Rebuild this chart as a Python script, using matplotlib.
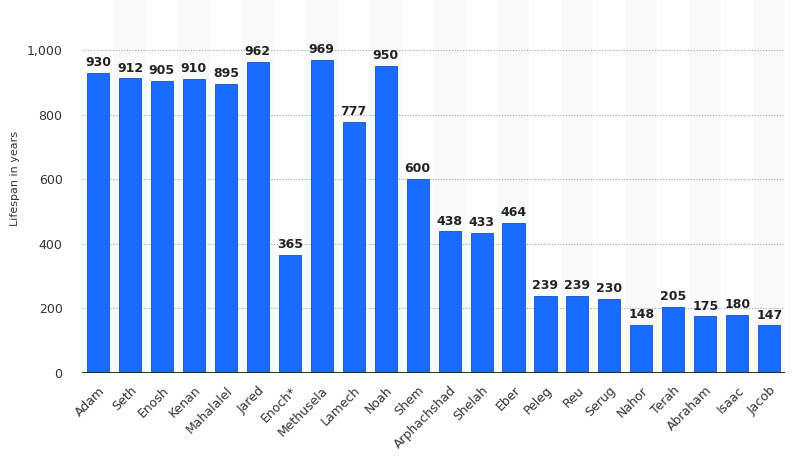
import matplotlib.pyplot as plt
from matplotlib.ticker import FuncFormatter

names = ['Adam', 'Seth', 'Enosh', 'Kenan', 'Mahalalel', 'Jared', 'Enoch*',
         'Methusela', 'Lamech', 'Noah', 'Shem', 'Arphachshad', 'Shelah', 'Eber',
         'Peleg', 'Reu', 'Serug', 'Nahor', 'Terah', 'Abraham', 'Isaac', 'Jacob']
years = [930, 912, 905, 910, 895, 962, 365, 969, 777, 950, 600, 438, 433, 464,
         239, 239, 230, 148, 205, 175, 180, 147]
yticks = [0, 200, 400, 600, 800, 1000]

fig = plt.figure(figsize=(8, 4.57), dpi=100)
ax = fig.add_axes([0.1025, 0.184, 0.879, 0.816])

x = list(range(len(names)))

# light stripes behind every other category
for i in x:
    if i % 2 == 1:
        ax.axvspan(i - 0.5, i + 0.5, color='#f9f9f9', zorder=0, lw=0)

for y in yticks[1:]:
    ax.axhline(y, color='#a8a8a8', lw=0.8, ls=(0, (1, 1.5)), zorder=1)

bars = ax.bar(x, years, width=0.69, color='#1a6bff', edgecolor='#1450c8',
              linewidth=0.6, zorder=2)
ax.axhline(0, color='#222222', lw=1.3, zorder=3)

for i, v in enumerate(years):
    ax.text(i, v + 12, str(v), ha='center', va='bottom', fontsize=9,
            fontweight='bold', color='#222222', zorder=4)

ax.set_xlim(-0.5, len(names) - 0.5)
ax.set_ylim(0, 1155)
ax.set_yticks(yticks)
ax.yaxis.set_major_formatter(FuncFormatter(lambda v, p: '{:,.0f}'.format(v)))
ax.set_xticks(x)
ax.set_xticklabels(names, rotation=45, ha='right', rotation_mode='anchor',
                   fontsize=9, color='#333333')
ax.tick_params(axis='y', labelsize=9, labelcolor='#333333', length=0, pad=14)
ax.tick_params(axis='x', length=0, pad=8)
for s in ax.spines.values():
    s.set_visible(False)

ax.set_ylabel('Lifespan in years', fontsize=8, color='#333333')
ax.yaxis.set_label_coords(-0.088, 0.52)

fig.savefig('out.png', dpi=100)
